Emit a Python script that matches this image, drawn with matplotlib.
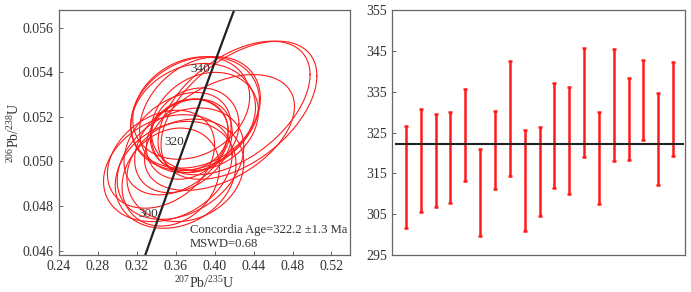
import numpy as np
import matplotlib
matplotlib.use('Agg')
import matplotlib.pyplot as plt

plt.rcParams['font.family'] = ['Liberation Serif', 'DejaVu Serif']
plt.rcParams['mathtext.fontset'] = 'custom'
plt.rcParams['mathtext.rm'] = 'Liberation Serif'

# ellipse data: 207Pb/235U, 206Pb/238U centres, half extents, correlation
x_c = [0.352, 0.360, 0.345, 0.365, 0.355, 0.370, 0.374, 0.372, 0.368, 0.380,
       0.362, 0.425, 0.405, 0.380, 0.385, 0.378, 0.390, 0.376, 0.420]
y_c = [0.0497, 0.0494, 0.0501, 0.0499, 0.0493, 0.0496, 0.0512, 0.0510, 0.0507, 0.0514,
       0.0508, 0.0523, 0.0513, 0.0522, 0.0521, 0.0520, 0.0518, 0.0524, 0.0524]
x_err = [0.066, 0.062, 0.055, 0.065, 0.050, 0.060, 0.040, 0.042, 0.050, 0.045,
         0.055, 0.080, 0.077, 0.066, 0.062, 0.064, 0.055, 0.060, 0.078]
y_err = [0.0024, 0.0024, 0.0022, 0.0025, 0.0022, 0.0023, 0.0016, 0.0018, 0.0021, 0.0019,
         0.0023, 0.0031, 0.0026, 0.0025, 0.0026, 0.0024, 0.0022, 0.0023, 0.0030]
rho = [0.25, 0.20, 0.30, 0.30, 0.20, 0.15, 0.10, 0.20, 0.30, 0.15,
       0.35, 0.50, 0.45, 0.22, 0.28, 0.18, 0.20, 0.22, 0.50]

# concordia (decay constants per Ma)
lam238 = 1.55125e-4
lam235 = 9.8485e-4
age_labels = [300, 320, 340]

# individual ages (Ma): upper and lower ends of error bars
age_hi = [326.6, 330.8, 329.6, 329.9, 335.7, 321.0, 330.3, 342.5, 325.6, 326.3,
          337.1, 336.2, 345.7, 330.1, 345.5, 338.4, 342.8, 334.6, 342.3]
age_lo = [301.5, 305.5, 306.7, 307.8, 313.2, 299.7, 311.2, 314.3, 301.0, 304.6,
          311.3, 309.9, 319.0, 307.6, 317.9, 318.3, 323.1, 312.1, 319.3]
mean_age = 322.2

fig = plt.figure(figsize=(6.91, 2.92), dpi=100)
ax1 = fig.add_axes([58.7 / 691, 1 - 255 / 292, (350 - 58.7) / 691, 245 / 292])
ax2 = fig.add_axes([391.7 / 691, 1 - 255 / 292, (685 - 391.7) / 691, 245 / 292])

# --- concordia plot ---
th = np.linspace(0, 2 * np.pi, 200)
for i in range(len(x_c)):
    xs = x_c[i] + x_err[i] * np.cos(th)
    ys = y_c[i] + y_err[i] * (rho[i] * np.cos(th) + np.sqrt(1 - rho[i] ** 2) * np.sin(th))
    ax1.plot(xs, ys, color='#ff1a1a', lw=0.8)

t = np.linspace(250, 400, 300)
ax1.plot(np.exp(lam235 * t) - 1, np.exp(lam238 * t) - 1, color='#222222', lw=1.6)
for a in age_labels:
    ax1.text(np.exp(lam235 * a) - 1 - 0.002, np.exp(lam238 * a) - 1, str(a),
             ha='right', va='center', fontsize=9.5, color='#333333')

ax1.set_xlim(0.24, 0.539)
ax1.set_ylim(0.0458, 0.0568)
ax1.set_xticks([0.24, 0.28, 0.32, 0.36, 0.40, 0.44, 0.48, 0.52])
ax1.set_xticklabels(['%.2f' % v for v in ax1.get_xticks()])
ax1.set_yticks([0.046, 0.048, 0.050, 0.052, 0.054, 0.056])
ax1.set_yticklabels(['%.3f' % v for v in ax1.get_yticks()])
ax1.set_xlabel(r'$^{207}$Pb/$^{235}$U', fontsize=10, labelpad=1, color='#333333')
ax1.set_ylabel(r'$^{206}$Pb/$^{238}$U', fontsize=10, color='#333333')
ax1.yaxis.set_label_coords(-0.125, 0.5)
ax1.text(0.451, 0.102, 'Concordia Age=322.2 \u00b11.3 Ma', fontsize=9.1,
         color='#333333', ha='left', va='center', transform=ax1.transAxes)
ax1.text(0.451, 0.045, 'MSWD=0.68', fontsize=9.1,
         color='#333333', ha='left', va='center', transform=ax1.transAxes)

# --- age bar plot ---
n = np.arange(1, len(age_hi) + 1)
mid = (np.array(age_hi) + np.array(age_lo)) / 2
half = (np.array(age_hi) - np.array(age_lo)) / 2
ax2.errorbar(n, mid, yerr=half, fmt='none', ecolor='#ff1a1a', elinewidth=1.8,
             capsize=1.5, capthick=1.8)
ax2.plot([0.33, len(age_hi) + 0.67], [mean_age, mean_age], color='#222222', lw=1.5)
ax2.set_xlim(0.04, 19.8)
ax2.set_ylim(295, 355)
ax2.set_yticks([295, 305, 315, 325, 335, 345, 355])
ax2.set_xticks([])

for ax in (ax1, ax2):
    for s in ax.spines.values():
        s.set_color('#666666')
        s.set_linewidth(0.9)
    ax.tick_params(direction='in', length=3, width=0.7, color='#666666',
                   labelsize=10, labelcolor='#333333')

fig.savefig('out.png', dpi=100)
